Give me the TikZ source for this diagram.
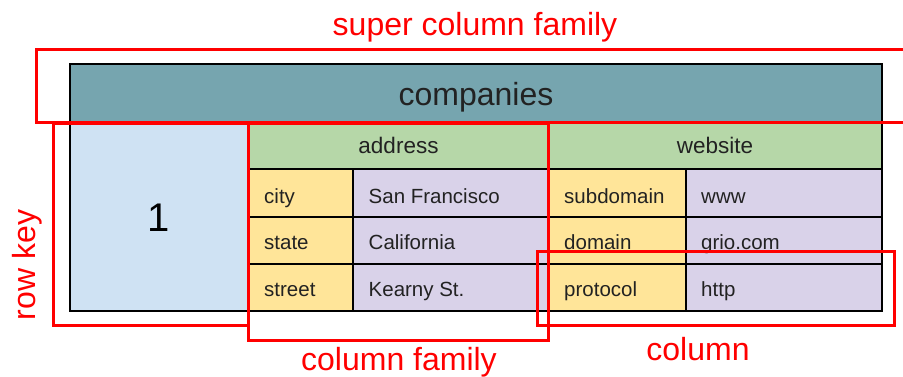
\documentclass[tikz,border=0pt]{standalone}
\usepackage{fontspec}
\setmainfont{Liberation Sans}
\definecolor{hdr}{HTML}{76A5AF}
\definecolor{keyblue}{HTML}{CFE2F3}
\definecolor{fam}{HTML}{B6D7A8}
\definecolor{qual}{HTML}{FFE599}
\definecolor{val}{HTML}{D9D2E9}
\definecolor{mark}{HTML}{FF0000}
\definecolor{ink}{HTML}{222222}
\tikzset{
  grid/.style={draw=black, line width=1.4pt},
  redbox/.style={draw=mark, line width=3pt},
  redlbl/.style={text=mark, inner sep=0pt, anchor=base, font=\fontsize{32}{38}\selectfont},
  celltxt/.style={text=ink, inner sep=0pt, anchor=base west, font=\fontsize{20.5}{24}\selectfont},
  famtxt/.style={text=ink, inner sep=0pt, anchor=base, font=\fontsize{22.5}{27}\selectfont},
}
\begin{document}
\begin{tikzpicture}[x=1pt,y=-1pt]
\useasboundingbox (0,0) rectangle (903,376);
\clip (0,0) rectangle (903,376);
% fills
\fill[hdr] (70,64) rectangle (882,122);
\fill[keyblue] (70,122) rectangle (248,311);
\fill[fam] (248,122) rectangle (882,169);
\fill[qual] (248,169) rectangle (353,311);
\fill[val] (353,169) rectangle (548,311);
\fill[qual] (548,169) rectangle (686,311);
\fill[val] (686,169) rectangle (882,311);
% grid lines
\draw[grid] (70,64) rectangle (882,311);
\draw[grid] (70,122) -- (882,122);
\draw[grid] (248,122) -- (248,311);
\draw[grid] (548,122) -- (548,311);
\draw[grid] (248,169) -- (882,169);
\draw[grid] (248,217) -- (882,217);
\draw[grid] (248,264) -- (882,264);
\draw[grid] (353,169) -- (353,311);
\draw[grid] (686,169) -- (686,311);
% texts in table
\node[text=ink, inner sep=0pt, anchor=base, font=\fontsize{32}{38}\selectfont] (companies) at (476,105) {companies};
\node[text=black, inner sep=0pt, anchor=center, font=\fontsize{40}{46}\selectfont] (rowkey1) at (159,218) {1};
\node[famtxt] (address) at (398.5,153) {address};
\node[famtxt] (website) at (715,153) {website};
\node[celltxt] (city) at (264,203) {city};
\node[celltxt] (state) at (264,249.5) {state};
\node[celltxt] (street) at (264,296.5) {street};
\node[celltxt] (sf) at (368.5,203) {San Francisco};
\node[celltxt] (ca) at (368.5,249.5) {California};
\node[celltxt] (kearny) at (368.5,296.5) {Kearny St.};
\node[celltxt] (subdomain) at (564,203) {subdomain};
\node[celltxt] (domain) at (564,249.5) {domain};
\node[celltxt] (protocol) at (564,296.5) {protocol};
\node[celltxt] (www) at (701,203) {www};
\node[celltxt] (grio) at (701,249.5) {grio.com};
\node[celltxt] (http) at (701,296.5) {http};
% red boxes
\draw[redbox] (36,49.5) rectangle (915,122.5);
\draw[redbox] (53.5,123) rectangle (248,325);
\draw[redbox] (248,123) rectangle (548.5,340);
\draw[redbox] (537,251) rectangle (894,325);
% red labels
\node[redlbl] (lblscf) at (475,35) {super column family};
\node[redlbl, rotate=90] (lblrk) at (35,265) {row key};
\node[redlbl] (lblcf) at (399,370) {column family};
\node[redlbl] (lblcol) at (698,360) {column};
\end{tikzpicture}
\end{document}
